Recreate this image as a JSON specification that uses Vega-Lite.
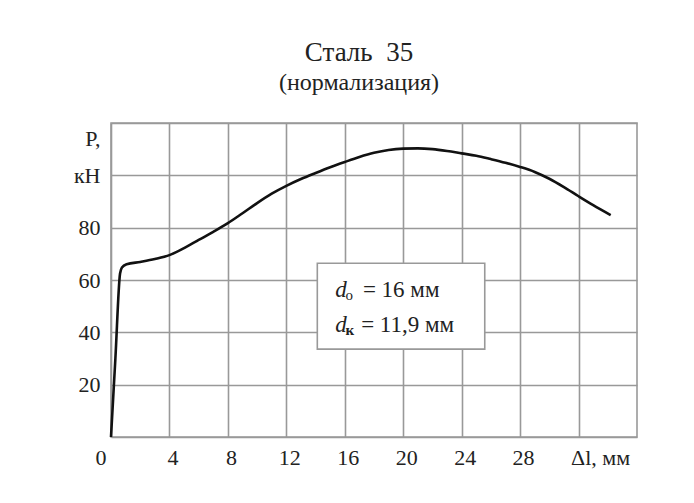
{
  "$schema": "https://vega.github.io/schema/vega-lite/v6.json",
  "width": 526,
  "height": 314,
  "autosize": {"type": "none"},
  "padding": {"left": 111, "top": 123, "right": 57, "bottom": 66},
  "background": "white",
  "config": {
    "font": "Liberation Serif",
    "view": {"stroke": "#999999", "strokeWidth": 1.6}
  },
  "title": {
    "text": "Сталь\u00a0\u00a035",
    "subtitle": "(нормализация)",
    "font": "Liberation Serif",
    "subtitleFont": "Liberation Serif",
    "fontSize": 27,
    "fontWeight": "normal",
    "subtitleFontSize": 24,
    "color": "#222222",
    "subtitleColor": "#222222",
    "anchor": "middle",
    "dx": -15,
    "offset": 27,
    "subtitlePadding": 4
  },
  "datasets": {
    "curve": [
      {"dl": 0, "P": 0},
      {"dl": 0.3, "P": 30},
      {"dl": 0.62, "P": 62.5},
      {"dl": 0.75, "P": 64.8},
      {"dl": 1.07, "P": 66.0},
      {"dl": 2, "P": 66.9},
      {"dl": 3, "P": 68.0},
      {"dl": 4, "P": 69.5},
      {"dl": 5, "P": 72.2},
      {"dl": 6, "P": 75.3},
      {"dl": 7, "P": 78.4},
      {"dl": 8, "P": 81.7},
      {"dl": 9, "P": 85.5},
      {"dl": 10, "P": 89.4},
      {"dl": 11, "P": 93.0},
      {"dl": 12, "P": 96.0},
      {"dl": 13, "P": 98.6},
      {"dl": 14, "P": 100.9},
      {"dl": 15, "P": 103.1},
      {"dl": 16, "P": 105.1},
      {"dl": 17, "P": 107.0},
      {"dl": 18, "P": 108.6},
      {"dl": 19, "P": 109.7},
      {"dl": 20, "P": 110.2},
      {"dl": 21, "P": 110.3},
      {"dl": 22, "P": 110.0},
      {"dl": 23, "P": 109.3},
      {"dl": 24, "P": 108.4},
      {"dl": 25, "P": 107.5},
      {"dl": 26, "P": 106.2},
      {"dl": 27, "P": 104.8},
      {"dl": 28, "P": 103.2},
      {"dl": 29, "P": 101.3},
      {"dl": 30, "P": 98.7},
      {"dl": 31, "P": 95.5},
      {"dl": 32, "P": 92.0},
      {"dl": 33, "P": 88.6},
      {"dl": 34.2, "P": 84.8}
    ],
    "box": [{"x1": 14.12, "x2": 25.58, "y1": 33.6, "y2": 66.4}],
    "dtext": [
      {"x": 15.34, "y": 53.6, "t": "d"},
      {"x": 15.34, "y": 40.05, "t": "d"}
    ],
    "sub0": [{"x": 16.05, "y": 52.4, "t": "о"}],
    "subk": [{"x": 16.05, "y": 38.9, "t": "к"}],
    "resttext": [
      {"x": 17.24, "y": 53.6, "t": "= 16 мм"},
      {"x": 17.12, "y": 40.05, "t": "= 11,9 мм"}
    ]
  },
  "encoding": {
    "x": {
      "type": "quantitative",
      "scale": {"domain": [0, 36], "nice": false, "zero": false},
      "axis": {
        "title": null,
        "values": [0, 4, 8, 12, 16, 20, 24, 28, 32],
        "labelExpr": "datum.value == 32 ? 'Δl, мм' : datum.label",
        "labelFont": "Liberation Serif",
        "labelFontSize": 22,
        "labelColor": "#222222",
        "labelPadding": 10,
        "labelAlign": {"condition": [{"test": "datum.value == 0", "value": "right"}, {"test": "datum.value == 32", "value": "left"}], "value": "center"},
        "labelOffset": {"condition": [{"test": "datum.value == 0", "value": -5}, {"test": "datum.value == 32", "value": -8}], "value": 3},
        "labelFlush": false,
        "labelOverlap": false,
        "ticks": false,
        "domain": false,
        "grid": true,
        "gridColor": "#999999",
        "gridWidth": 1.6,
        "gridOpacity": 1
      }
    },
    "y": {
      "type": "quantitative",
      "scale": {"domain": [0, 120], "nice": false},
      "axis": {
        "title": null,
        "values": [0, 20, 40, 60, 80, 100, 120],
        "labelExpr": "datum.value == 0 ? '' : datum.value == 100 ? 'кН' : datum.value == 120 ? 'P,' : datum.label",
        "labelFont": "Liberation Serif",
        "labelFontSize": 22,
        "labelColor": "#222222",
        "labelPadding": 11,
        "labelFlush": false,
        "labelOverlap": false,
        "labelOffset": {"condition": {"test": "datum.value == 120", "value": 15}, "value": 0},
        "ticks": false,
        "domain": false,
        "grid": true,
        "gridColor": "#999999",
        "gridWidth": 1.6,
        "gridOpacity": 1
      }
    }
  },
  "layer": [
    {
      "data": {"name": "curve"},
      "mark": {"type": "line", "color": "#111111", "strokeWidth": 2.6, "interpolate": "monotone"},
      "encoding": {
        "x": {"field": "dl", "type": "quantitative"},
        "y": {"field": "P", "type": "quantitative"}
      }
    },
    {
      "data": {"name": "box"},
      "mark": {"type": "rect", "fill": "white", "stroke": "#999999", "strokeWidth": 1.6},
      "encoding": {
        "x": {"field": "x1", "type": "quantitative"},
        "x2": {"field": "x2"},
        "y": {"field": "y1", "type": "quantitative"},
        "y2": {"field": "y2"}
      }
    },
    {
      "data": {"name": "dtext"},
      "mark": {"type": "text", "font": "Liberation Serif", "fontStyle": "italic", "fontSize": 23, "align": "left", "baseline": "alphabetic", "color": "#222222"},
      "encoding": {
        "x": {"field": "x", "type": "quantitative"},
        "y": {"field": "y", "type": "quantitative"},
        "text": {"field": "t"}
      }
    },
    {
      "data": {"name": "sub0"},
      "mark": {"type": "text", "font": "Liberation Serif", "fontSize": 15, "align": "left", "baseline": "alphabetic", "color": "#222222"},
      "encoding": {
        "x": {"field": "x", "type": "quantitative"},
        "y": {"field": "y", "type": "quantitative"},
        "text": {"field": "t"}
      }
    },
    {
      "data": {"name": "subk"},
      "mark": {"type": "text", "font": "Liberation Serif", "fontSize": 15, "fontWeight": "bold", "align": "left", "baseline": "alphabetic", "color": "#222222"},
      "encoding": {
        "x": {"field": "x", "type": "quantitative"},
        "y": {"field": "y", "type": "quantitative"},
        "text": {"field": "t"}
      }
    },
    {
      "data": {"name": "resttext"},
      "mark": {"type": "text", "font": "Liberation Serif", "fontSize": 23, "align": "left", "baseline": "alphabetic", "color": "#222222"},
      "encoding": {
        "x": {"field": "x", "type": "quantitative"},
        "y": {"field": "y", "type": "quantitative"},
        "text": {"field": "t"}
      }
    }
  ]
}
